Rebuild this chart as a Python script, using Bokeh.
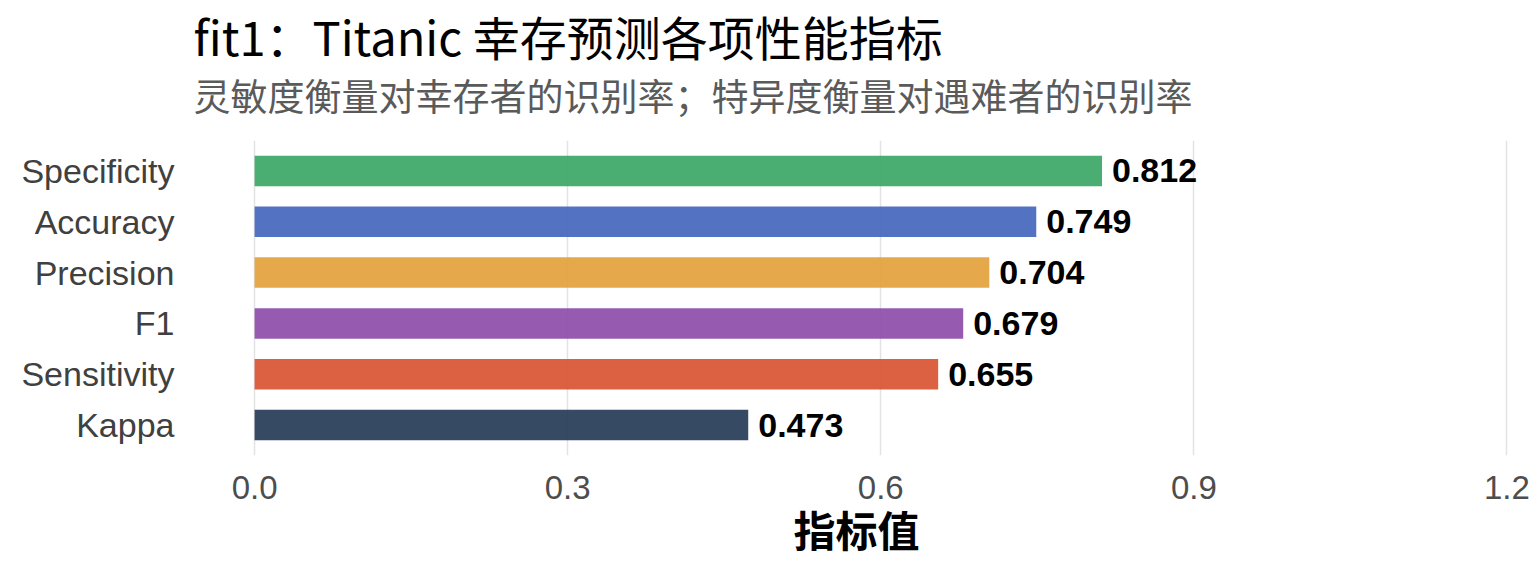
from bokeh.plotting import figure
from bokeh.models import ColumnDataSource, FactorRange, Range1d, FixedTicker, Title
from bokeh.core.properties import value
from bokeh.embed import file_html
from bokeh.resources import INLINE

# Data (top to bottom in the chart)
metrics = ["Specificity", "Accuracy", "Precision", "F1", "Sensitivity", "Kappa"]
values = [0.812, 0.749, 0.704, 0.679, 0.655, 0.473]
colors = ["#36A463", "#4063BB", "#E29E36", "#8B49A9", "#D84F2E", "#213652"]
labels = ["0.812", "0.749", "0.704", "0.679", "0.655", "0.473"]
x_ticks = [0.0, 0.3, 0.6, 0.9, 1.2]

title_text = "fit1：Titanic 幸存预测各项性能指标"
subtitle_text = "灵敏度衡量对幸存者的识别率；特异度衡量对遇难者的识别率"
x_title = "指标值"

CJK = "Noto Sans CJK SC"
LAT = "Liberation Sans"

source = ColumnDataSource(dict(metric=metrics, val=values, color=colors, label=labels))

factors = list(reversed(metrics))
p = figure(
    width=1536, height=576,
    y_range=FactorRange(factors=factors, range_padding=0.1, range_padding_units="absolute"),
    x_range=Range1d(-0.048, 1.2015),
    output_backend="svg", toolbar_location=None, title=None,
    min_border_left=204, min_border_right=28, min_border_top=140, min_border_bottom=121,
)
p.outline_line_color = None
p.background_fill_color = "white"
p.border_fill_color = "white"

p.hbar(y="metric", right="val", left=0, height=0.6, source=source,
       fill_color="color", fill_alpha=0.9, line_color=None)

p.text(x="val", y="metric", text="label", source=source, x_offset=10,
       text_baseline="middle", text_align="left",
       text_font=value(LAT), text_font_style="bold", text_font_size="34px",
       text_color="black")

# Titles
p.add_layout(Title(text=subtitle_text, text_font=CJK, text_font_size="37px",
                   text_color="#5A5A5A", text_font_style="normal", align="left",
                   offset=-11, standoff=37), "above")
p.add_layout(Title(text=title_text, text_font=CJK, text_font_size="47px",
                   text_color="black", text_font_style="normal", align="left",
                   offset=-11, standoff=-45), "above")

# Axes
p.xaxis.ticker = FixedTicker(ticks=x_ticks)
p.xaxis.major_label_overrides = {t: f"{t:.1f}" for t in x_ticks}
p.xaxis.axis_line_color = None
p.xaxis.major_tick_line_color = None
p.xaxis.minor_tick_line_color = None
p.xaxis.major_label_text_font = LAT
p.xaxis.major_label_text_font_size = "33px"
p.xaxis.major_label_text_color = "#4D4D4D"
p.xaxis.major_label_standoff = 14
p.xaxis.axis_label = x_title
p.xaxis.axis_label_text_font = CJK
p.xaxis.axis_label_text_font_size = "42px"
p.xaxis.axis_label_text_font_style = "bold"
p.xaxis.axis_label_text_color = "black"
p.xaxis.axis_label_standoff = -4

p.yaxis.axis_line_color = None
p.yaxis.major_tick_line_color = None
p.yaxis.minor_tick_line_color = None
p.yaxis.major_tick_out = 0
p.yaxis.major_label_text_font = LAT
p.yaxis.major_label_text_font_size = "34px"
p.yaxis.major_label_text_color = "#404040"
p.yaxis.major_label_standoff = 30

p.xgrid.ticker = FixedTicker(ticks=x_ticks)
p.xgrid.grid_line_color = "#E3E3E3"
p.xgrid.grid_line_width = 1.5
p.ygrid.grid_line_color = None

open("out.html", "w").write(file_html(p, INLINE))
